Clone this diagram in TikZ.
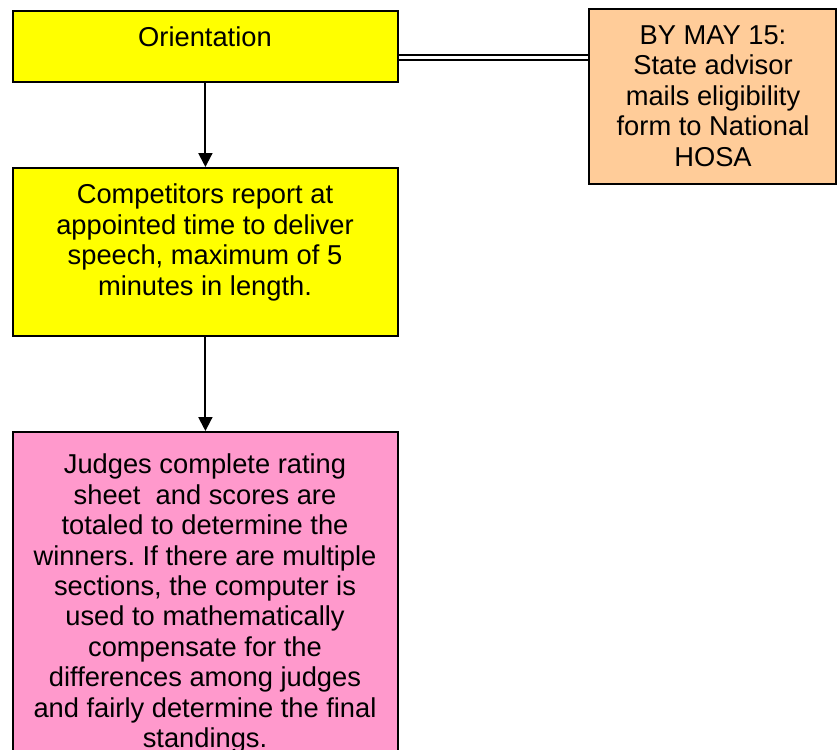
\documentclass[tikz,border=0pt]{standalone}
\usepackage{fontspec}
\setmainfont{Liberation Sans}
\usetikzlibrary{arrows.meta}
\definecolor{peach}{HTML}{FFCC99}
\definecolor{pinkbox}{HTML}{FF99CC}
\definecolor{yel}{HTML}{FFFF00}
\frenchspacing
\begin{document}
\begin{tikzpicture}[x=1pt,y=-1pt,
  box/.style={draw=black, line width=1.8pt, rectangle, inner sep=0pt, anchor=north west},
  txt/.style={anchor=north, inner sep=0pt, align=center, font=\fontsize{27.3}{30.4}\selectfont},
  arr/.style={line width=2pt, -{Triangle[length=14pt,width=14pt]}},
  dbl/.style={double, double distance=3pt, line width=2pt}]
\clip (0,0) rectangle (837,749);
\fill[white] (0,0) rectangle (837,749);
\node[box, fill=yel, minimum width=385pt, minimum height=71pt] (o) at (12,10) {};
\node[box, fill=peach, minimum width=247pt, minimum height=175pt] (p) at (588,8) {};
\node[box, fill=yel, minimum width=385pt, minimum height=168pt] (c) at (12,167) {};
\node[box, fill=pinkbox, minimum width=385pt, minimum height=340pt] (j) at (12,431) {};
\node[txt] (ot) at (205,27) {Orientation};
\node[txt] (pt) at (713,25.5) {BY MAY 15:\\State advisor\\mails eligibility\\form to National\\HOSA};
\node[txt] (ct) at (205,184) {Competitors report at\\appointed time to deliver\\speech, maximum of 5\\minutes in length.};
\node[txt] (jt) at (205,454) {Judges complete rating\\sheet\ \ and scores are\\totaled to determine the\\winners. If there are multiple\\sections, the computer is\\used to mathematically\\compensate for the\\differences among judges\\and fairly determine the final\\standings.};
\draw[dbl] ([yshift=-11pt]o.east) -- ([yshift=-11pt]o.east -| p.west);
\draw[arr] (o.south) -- (c.north);
\draw[arr] (c.south) -- (j.north);
\end{tikzpicture}
\end{document}
